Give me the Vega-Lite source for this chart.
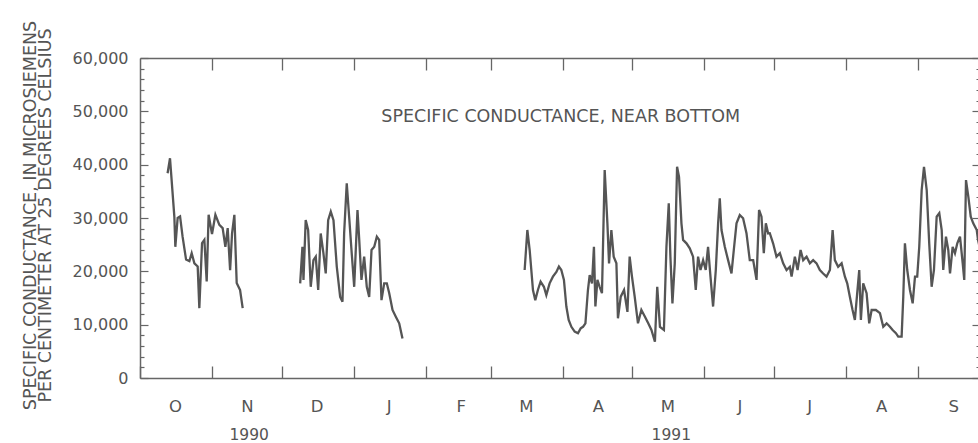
{
  "$schema": "https://vega.github.io/schema/vega-lite/v6.json",
  "autosize": {"type": "none"},
  "padding": {"left": 140, "top": 58, "right": 0, "bottom": 65},
  "width": 838,
  "height": 320,
  "background": "white",
  "config": {"view": {"stroke": null}, "font": "DejaVu Sans", "axis": {"grid": false}},
  "datasets": {
    "conductance": [
      {"date": "1990-10-12T21:00", "value": 38400, "segment": 1},
      {"date": "1990-10-13T22:00", "value": 41200, "segment": 1},
      {"date": "1990-10-15T19:00", "value": 30200, "segment": 1},
      {"date": "1990-10-16T05:00", "value": 24600, "segment": 1},
      {"date": "1990-10-17T05:00", "value": 30000, "segment": 1},
      {"date": "1990-10-18T06:00", "value": 30300, "segment": 1},
      {"date": "1990-10-19T08:00", "value": 26500, "segment": 1},
      {"date": "1990-10-20T20:00", "value": 22200, "segment": 1},
      {"date": "1990-10-22T06:00", "value": 21900, "segment": 1},
      {"date": "1990-10-23T06:00", "value": 23400, "segment": 1},
      {"date": "1990-10-24T10:00", "value": 21500, "segment": 1},
      {"date": "1990-10-25T20:00", "value": 20900, "segment": 1},
      {"date": "1990-10-26T13:00", "value": 13100, "segment": 1},
      {"date": "1990-10-27T17:00", "value": 25300, "segment": 1},
      {"date": "1990-10-28T17:00", "value": 25900, "segment": 1},
      {"date": "1990-10-29T17:00", "value": 18100, "segment": 1},
      {"date": "1990-10-30T13:00", "value": 30600, "segment": 1},
      {"date": "1990-11-01T00:00", "value": 27000, "segment": 1},
      {"date": "1990-11-02T11:00", "value": 30600, "segment": 1},
      {"date": "1990-11-04T04:00", "value": 28700, "segment": 1},
      {"date": "1990-11-05T14:00", "value": 28100, "segment": 1},
      {"date": "1990-11-06T18:00", "value": 24600, "segment": 1},
      {"date": "1990-11-07T18:00", "value": 28100, "segment": 1},
      {"date": "1990-11-08T19:00", "value": 20200, "segment": 1},
      {"date": "1990-11-09T15:00", "value": 27100, "segment": 1},
      {"date": "1990-11-10T15:00", "value": 30600, "segment": 1},
      {"date": "1990-11-11T15:00", "value": 17800, "segment": 1},
      {"date": "1990-11-13T02:00", "value": 16500, "segment": 1},
      {"date": "1990-11-14T05:00", "value": 13100, "segment": 1},
      {"date": "1990-12-08T23:00", "value": 17750, "segment": 2},
      {"date": "1990-12-09T22:00", "value": 24600, "segment": 2},
      {"date": "1990-12-10T09:00", "value": 18400, "segment": 2},
      {"date": "1990-12-11T08:00", "value": 29600, "segment": 2},
      {"date": "1990-12-12T09:00", "value": 27750, "segment": 2},
      {"date": "1990-12-13T12:00", "value": 17100, "segment": 2},
      {"date": "1990-12-14T16:00", "value": 22100, "segment": 2},
      {"date": "1990-12-15T16:00", "value": 22750, "segment": 2},
      {"date": "1990-12-16T17:00", "value": 16500, "segment": 2},
      {"date": "1990-12-17T19:00", "value": 27100, "segment": 2},
      {"date": "1990-12-18T23:00", "value": 23400, "segment": 2},
      {"date": "1990-12-19T23:00", "value": 19600, "segment": 2},
      {"date": "1990-12-21T00:00", "value": 29600, "segment": 2},
      {"date": "1990-12-22T03:00", "value": 31200, "segment": 2},
      {"date": "1990-12-23T07:00", "value": 29600, "segment": 2},
      {"date": "1990-12-24T17:00", "value": 20900, "segment": 2},
      {"date": "1990-12-26T04:00", "value": 15200, "segment": 2},
      {"date": "1990-12-27T04:00", "value": 14300, "segment": 2},
      {"date": "1990-12-27T21:00", "value": 27100, "segment": 2},
      {"date": "1990-12-29T00:00", "value": 36500, "segment": 2},
      {"date": "1990-12-30T01:00", "value": 30200, "segment": 2},
      {"date": "1990-12-31T01:00", "value": 24000, "segment": 2},
      {"date": "1991-01-01T05:00", "value": 17100, "segment": 2},
      {"date": "1991-01-02T15:00", "value": 31500, "segment": 2},
      {"date": "1991-01-03T09:00", "value": 25900, "segment": 2},
      {"date": "1991-01-04T08:00", "value": 18400, "segment": 2},
      {"date": "1991-01-05T12:00", "value": 22750, "segment": 2},
      {"date": "1991-01-06T15:00", "value": 17100, "segment": 2},
      {"date": "1991-01-07T16:00", "value": 15200, "segment": 2},
      {"date": "1991-01-08T16:00", "value": 24000, "segment": 2},
      {"date": "1991-01-09T20:00", "value": 24600, "segment": 2},
      {"date": "1991-01-10T23:00", "value": 26500, "segment": 2},
      {"date": "1991-01-11T23:00", "value": 25900, "segment": 2},
      {"date": "1991-01-12T23:00", "value": 14600, "segment": 2},
      {"date": "1991-01-14T03:00", "value": 17750, "segment": 2},
      {"date": "1991-01-15T06:00", "value": 17750, "segment": 2},
      {"date": "1991-01-16T07:00", "value": 15900, "segment": 2},
      {"date": "1991-01-17T17:00", "value": 12750, "segment": 2},
      {"date": "1991-01-19T03:00", "value": 11500, "segment": 2},
      {"date": "1991-01-20T14:00", "value": 10250, "segment": 2},
      {"date": "1991-01-22T00:00", "value": 7400, "segment": 2},
      {"date": "1991-03-15T14:00", "value": 20250, "segment": 3},
      {"date": "1991-03-16T18:00", "value": 27750, "segment": 3},
      {"date": "1991-03-17T18:00", "value": 24000, "segment": 3},
      {"date": "1991-03-19T04:00", "value": 16500, "segment": 3},
      {"date": "1991-03-20T04:00", "value": 14600, "segment": 3},
      {"date": "1991-03-21T07:00", "value": 16500, "segment": 3},
      {"date": "1991-03-22T11:00", "value": 18050, "segment": 3},
      {"date": "1991-03-23T21:00", "value": 17100, "segment": 3},
      {"date": "1991-03-24T22:00", "value": 15550, "segment": 3},
      {"date": "1991-03-26T08:00", "value": 17750, "segment": 3},
      {"date": "1991-03-27T18:00", "value": 19000, "segment": 3},
      {"date": "1991-03-29T06:00", "value": 19900, "segment": 3},
      {"date": "1991-03-30T08:00", "value": 20900, "segment": 3},
      {"date": "1991-03-31T09:00", "value": 20250, "segment": 3},
      {"date": "1991-04-01T12:00", "value": 18400, "segment": 3},
      {"date": "1991-04-02T13:00", "value": 13400, "segment": 3},
      {"date": "1991-04-03T13:00", "value": 10900, "segment": 3},
      {"date": "1991-04-04T17:00", "value": 9600, "segment": 3},
      {"date": "1991-04-06T03:00", "value": 8700, "segment": 3},
      {"date": "1991-04-07T13:00", "value": 8400, "segment": 3},
      {"date": "1991-04-08T17:00", "value": 9300, "segment": 3},
      {"date": "1991-04-09T17:00", "value": 9600, "segment": 3},
      {"date": "1991-04-10T18:00", "value": 10250, "segment": 3},
      {"date": "1991-04-11T20:00", "value": 16500, "segment": 3},
      {"date": "1991-04-12T14:00", "value": 19300, "segment": 3},
      {"date": "1991-04-13T14:00", "value": 17750, "segment": 3},
      {"date": "1991-04-14T10:00", "value": 24600, "segment": 3},
      {"date": "1991-04-15T01:00", "value": 13400, "segment": 3},
      {"date": "1991-04-15T22:00", "value": 18400, "segment": 3},
      {"date": "1991-04-16T21:00", "value": 17100, "segment": 3},
      {"date": "1991-04-17T21:00", "value": 15900, "segment": 3},
      {"date": "1991-04-19T01:00", "value": 39000, "segment": 3},
      {"date": "1991-04-20T05:00", "value": 29000, "segment": 3},
      {"date": "1991-04-20T22:00", "value": 21500, "segment": 3},
      {"date": "1991-04-21T22:00", "value": 27750, "segment": 3},
      {"date": "1991-04-22T22:00", "value": 22750, "segment": 3},
      {"date": "1991-04-24T02:00", "value": 21500, "segment": 3},
      {"date": "1991-04-24T18:00", "value": 11200, "segment": 3},
      {"date": "1991-04-25T23:00", "value": 15250, "segment": 3},
      {"date": "1991-04-27T09:00", "value": 16500, "segment": 3},
      {"date": "1991-04-28T20:00", "value": 12400, "segment": 3},
      {"date": "1991-04-29T19:00", "value": 22750, "segment": 3},
      {"date": "1991-04-30T19:00", "value": 19000, "segment": 3},
      {"date": "1991-05-01T23:00", "value": 15250, "segment": 3},
      {"date": "1991-05-03T09:00", "value": 10250, "segment": 3},
      {"date": "1991-05-04T20:00", "value": 12750, "segment": 3},
      {"date": "1991-05-06T09:00", "value": 11500, "segment": 3},
      {"date": "1991-05-07T19:00", "value": 10250, "segment": 3},
      {"date": "1991-05-09T04:00", "value": 9000, "segment": 3},
      {"date": "1991-05-10T16:00", "value": 6800, "segment": 3},
      {"date": "1991-05-11T16:00", "value": 17100, "segment": 3},
      {"date": "1991-05-12T20:00", "value": 9600, "segment": 3},
      {"date": "1991-05-14T13:00", "value": 9000, "segment": 3},
      {"date": "1991-05-15T15:00", "value": 24600, "segment": 3},
      {"date": "1991-05-16T15:00", "value": 32750, "segment": 3},
      {"date": "1991-05-17T08:00", "value": 22750, "segment": 3},
      {"date": "1991-05-18T05:00", "value": 14000, "segment": 3},
      {"date": "1991-05-19T05:00", "value": 21500, "segment": 3},
      {"date": "1991-05-20T05:00", "value": 39600, "segment": 3},
      {"date": "1991-05-21T01:00", "value": 37700, "segment": 3},
      {"date": "1991-05-22T02:00", "value": 29000, "segment": 3},
      {"date": "1991-05-22T19:00", "value": 25900, "segment": 3},
      {"date": "1991-05-24T06:00", "value": 25250, "segment": 3},
      {"date": "1991-05-25T16:00", "value": 24300, "segment": 3},
      {"date": "1991-05-27T02:00", "value": 22750, "segment": 3},
      {"date": "1991-05-28T06:00", "value": 16500, "segment": 3},
      {"date": "1991-05-29T06:00", "value": 22750, "segment": 3},
      {"date": "1991-05-30T07:00", "value": 20250, "segment": 3},
      {"date": "1991-05-31T10:00", "value": 22100, "segment": 3},
      {"date": "1991-06-01T13:00", "value": 20250, "segment": 3},
      {"date": "1991-06-02T13:00", "value": 24600, "segment": 3},
      {"date": "1991-06-03T14:00", "value": 19000, "segment": 3},
      {"date": "1991-06-04T17:00", "value": 13400, "segment": 3},
      {"date": "1991-06-05T21:00", "value": 20250, "segment": 3},
      {"date": "1991-06-06T21:00", "value": 29000, "segment": 3},
      {"date": "1991-06-07T14:00", "value": 33700, "segment": 3},
      {"date": "1991-06-08T08:00", "value": 27750, "segment": 3},
      {"date": "1991-06-09T18:00", "value": 24600, "segment": 3},
      {"date": "1991-06-11T04:00", "value": 22100, "segment": 3},
      {"date": "1991-06-12T15:00", "value": 19600, "segment": 3},
      {"date": "1991-06-13T15:00", "value": 24000, "segment": 3},
      {"date": "1991-06-14T19:00", "value": 29000, "segment": 3},
      {"date": "1991-06-16T05:00", "value": 30550, "segment": 3},
      {"date": "1991-06-17T15:00", "value": 29950, "segment": 3},
      {"date": "1991-06-19T02:00", "value": 27150, "segment": 3},
      {"date": "1991-06-20T12:00", "value": 22100, "segment": 3},
      {"date": "1991-06-21T23:00", "value": 22100, "segment": 3},
      {"date": "1991-06-23T10:00", "value": 18400, "segment": 3},
      {"date": "1991-06-24T12:00", "value": 31500, "segment": 3},
      {"date": "1991-06-25T13:00", "value": 30250, "segment": 3},
      {"date": "1991-06-26T13:00", "value": 23400, "segment": 3},
      {"date": "1991-06-27T10:00", "value": 29000, "segment": 3},
      {"date": "1991-06-28T10:00", "value": 27100, "segment": 3},
      {"date": "1991-06-29T03:00", "value": 27150, "segment": 3},
      {"date": "1991-06-30T13:00", "value": 25250, "segment": 3},
      {"date": "1991-07-02T00:00", "value": 22750, "segment": 3},
      {"date": "1991-07-03T11:00", "value": 23400, "segment": 3},
      {"date": "1991-07-04T21:00", "value": 21500, "segment": 3},
      {"date": "1991-07-06T08:00", "value": 20250, "segment": 3},
      {"date": "1991-07-07T18:00", "value": 20850, "segment": 3},
      {"date": "1991-07-08T12:00", "value": 19000, "segment": 3},
      {"date": "1991-07-09T22:00", "value": 22750, "segment": 3},
      {"date": "1991-07-11T02:00", "value": 20250, "segment": 3},
      {"date": "1991-07-12T09:00", "value": 24000, "segment": 3},
      {"date": "1991-07-13T12:00", "value": 22100, "segment": 3},
      {"date": "1991-07-14T23:00", "value": 22750, "segment": 3},
      {"date": "1991-07-16T09:00", "value": 21500, "segment": 3},
      {"date": "1991-07-17T19:00", "value": 22100, "segment": 3},
      {"date": "1991-07-19T06:00", "value": 21500, "segment": 3},
      {"date": "1991-07-20T16:00", "value": 20250, "segment": 3},
      {"date": "1991-07-22T02:00", "value": 19600, "segment": 3},
      {"date": "1991-07-23T13:00", "value": 19000, "segment": 3},
      {"date": "1991-07-25T00:00", "value": 20250, "segment": 3},
      {"date": "1991-07-26T04:00", "value": 27750, "segment": 3},
      {"date": "1991-07-27T03:00", "value": 22100, "segment": 3},
      {"date": "1991-07-28T13:00", "value": 20850, "segment": 3},
      {"date": "1991-07-30T01:00", "value": 21500, "segment": 3},
      {"date": "1991-07-31T11:00", "value": 19000, "segment": 3},
      {"date": "1991-08-01T11:00", "value": 17750, "segment": 3},
      {"date": "1991-08-02T14:00", "value": 15250, "segment": 3},
      {"date": "1991-08-03T18:00", "value": 12750, "segment": 3},
      {"date": "1991-08-04T18:00", "value": 10900, "segment": 3},
      {"date": "1991-08-05T18:00", "value": 15900, "segment": 3},
      {"date": "1991-08-06T15:00", "value": 20250, "segment": 3},
      {"date": "1991-08-07T08:00", "value": 10900, "segment": 3},
      {"date": "1991-08-08T08:00", "value": 17750, "segment": 3},
      {"date": "1991-08-09T19:00", "value": 15900, "segment": 3},
      {"date": "1991-08-10T22:00", "value": 10250, "segment": 3},
      {"date": "1991-08-11T23:00", "value": 12750, "segment": 3},
      {"date": "1991-08-13T19:00", "value": 12750, "segment": 3},
      {"date": "1991-08-15T13:00", "value": 12150, "segment": 3},
      {"date": "1991-08-16T23:00", "value": 9600, "segment": 3},
      {"date": "1991-08-18T10:00", "value": 10250, "segment": 3},
      {"date": "1991-08-19T20:00", "value": 9600, "segment": 3},
      {"date": "1991-08-21T00:00", "value": 9000, "segment": 3},
      {"date": "1991-08-22T10:00", "value": 8400, "segment": 3},
      {"date": "1991-08-23T10:00", "value": 7750, "segment": 3},
      {"date": "1991-08-24T21:00", "value": 7750, "segment": 3},
      {"date": "1991-08-25T14:00", "value": 15250, "segment": 3},
      {"date": "1991-08-26T07:00", "value": 25250, "segment": 3},
      {"date": "1991-08-27T07:00", "value": 20250, "segment": 3},
      {"date": "1991-08-28T11:00", "value": 16500, "segment": 3},
      {"date": "1991-08-29T15:00", "value": 14000, "segment": 3},
      {"date": "1991-08-30T15:00", "value": 19000, "segment": 3},
      {"date": "1991-08-31T14:00", "value": 19000, "segment": 3},
      {"date": "1991-09-01T11:00", "value": 24600, "segment": 3},
      {"date": "1991-09-02T12:00", "value": 35250, "segment": 3},
      {"date": "1991-09-03T12:00", "value": 39600, "segment": 3},
      {"date": "1991-09-04T16:00", "value": 35250, "segment": 3},
      {"date": "1991-09-05T18:00", "value": 25250, "segment": 3},
      {"date": "1991-09-06T19:00", "value": 17100, "segment": 3},
      {"date": "1991-09-07T19:00", "value": 20250, "segment": 3},
      {"date": "1991-09-08T23:00", "value": 30250, "segment": 3},
      {"date": "1991-09-10T02:00", "value": 30900, "segment": 3},
      {"date": "1991-09-11T03:00", "value": 27750, "segment": 3},
      {"date": "1991-09-11T19:00", "value": 20250, "segment": 3},
      {"date": "1991-09-12T23:00", "value": 26500, "segment": 3},
      {"date": "1991-09-13T23:00", "value": 24000, "segment": 3},
      {"date": "1991-09-14T17:00", "value": 19600, "segment": 3},
      {"date": "1991-09-15T20:00", "value": 24600, "segment": 3},
      {"date": "1991-09-16T20:00", "value": 23400, "segment": 3},
      {"date": "1991-09-17T20:00", "value": 25250, "segment": 3},
      {"date": "1991-09-19T00:00", "value": 26500, "segment": 3},
      {"date": "1991-09-20T04:00", "value": 21500, "segment": 3},
      {"date": "1991-09-20T20:00", "value": 18400, "segment": 3},
      {"date": "1991-09-21T14:00", "value": 37100, "segment": 3},
      {"date": "1991-09-22T14:00", "value": 34000, "segment": 3},
      {"date": "1991-09-23T15:00", "value": 30250, "segment": 3},
      {"date": "1991-09-24T17:00", "value": 29000, "segment": 3},
      {"date": "1991-09-26T05:00", "value": 27750, "segment": 3},
      {"date": "1991-09-26T18:00", "value": 25900, "segment": 3},
      {"date": "1991-09-27T12:00", "value": 24500, "segment": 3}
    ],
    "notes": [
      {"date": "1991-03-31T02:00", "value": 49000, "text": "SPECIFIC CONDUCTANCE, NEAR BOTTOM"}
    ]
  },
  "layer": [
    {
      "data": {"name": "conductance"},
      "mark": {"type": "line", "color": "#555555", "strokeWidth": 2.3, "clip": true},
      "encoding": {
        "x": {
          "field": "date", "type": "temporal",
          "scale": {"domain": [{"year": 1990, "month": 10, "date": 1}, {"year": 1991, "month": 9, "date": 26, "hours": 18}]},
          "axis": {
            "orient": "bottom", "title": null,
            "values": [
              {"year": 1990, "month": 10, "date": 1}, {"year": 1990, "month": 11, "date": 1}, {"year": 1990, "month": 12, "date": 1},
              {"year": 1991, "month": 1, "date": 1}, {"year": 1991, "month": 2, "date": 1}, {"year": 1991, "month": 3, "date": 1},
              {"year": 1991, "month": 4, "date": 1}, {"year": 1991, "month": 5, "date": 1}, {"year": 1991, "month": 6, "date": 1},
              {"year": 1991, "month": 7, "date": 1}, {"year": 1991, "month": 8, "date": 1}, {"year": 1991, "month": 9, "date": 1}
            ],
            "labelExpr": "substring(timeFormat(datum.value, '%B'), 0, 1)",
            "labelOffset": 35, "labelAlign": "center", "labelFlush": false, "labelOverlap": false, "labelBound": false,
            "labelFontSize": 16.5, "labelColor": "#555555", "labelFont": "DejaVu Sans", "labelPadding": 32,
            "tickSize": -12, "tickColor": "#666666", "tickWidth": 1.3,
            "domainColor": "#666666", "domainWidth": 1.5
          }
        },
        "y": {
          "field": "value", "type": "quantitative",
          "scale": {"domain": [0, 60000]},
          "axis": {
            "orient": "left",
            "values": [0, 2000, 4000, 6000, 8000, 10000, 12000, 14000, 16000, 18000, 20000, 22000, 24000, 26000, 28000, 30000, 32000, 34000, 36000, 38000, 40000, 42000, 44000, 46000, 48000, 50000, 52000, 54000, 56000, 58000, 60000],
            "labelExpr": "datum.value % 10000 === 0 ? format(datum.value, ',') : ''",
            "labelOverlap": false, "labelFlush": false, "labelBound": false,
            "labelFontSize": 16, "labelColor": "#555555", "labelFont": "DejaVu Sans", "labelPadding": 20,
            "tickSize": {"condition": {"test": "datum.value % 10000 === 0", "value": -8}, "value": -4},
            "tickColor": "#666666", "tickWidth": 1.2,
            "domainColor": "#666666", "domainWidth": 1.5,
            "title": ["SPECIFIC CONDUCTANCE, IN MICROSIEMENS", "PER CENTIMETER AT 25 DEGREES CELSIUS"],
            "titleFont": "DejaVu Sans", "titleFontSize": 17.5, "titleFontWeight": "normal", "titleColor": "#555555",
            "titleLineHeight": 15, "titleAngle": -90, "titleAlign": "center", "titleBaseline": "middle",
            "titleX": -110, "titleY": 157
          }
        },
        "detail": {"field": "segment", "type": "nominal"}
      }
    },
    {
      "data": {"name": "conductance"},
      "mark": {"type": "line", "opacity": 0},
      "encoding": {
        "x": {
          "field": "date", "type": "temporal",
          "scale": {"domain": [{"year": 1990, "month": 10, "date": 1}, {"year": 1991, "month": 9, "date": 26, "hours": 18}]},
          "axis": {
            "orient": "top", "title": null, "labels": false,
            "values": [
              {"year": 1990, "month": 11, "date": 1}, {"year": 1990, "month": 12, "date": 1},
              {"year": 1991, "month": 1, "date": 1}, {"year": 1991, "month": 2, "date": 1}, {"year": 1991, "month": 3, "date": 1},
              {"year": 1991, "month": 4, "date": 1}, {"year": 1991, "month": 5, "date": 1}, {"year": 1991, "month": 6, "date": 1},
              {"year": 1991, "month": 7, "date": 1}, {"year": 1991, "month": 8, "date": 1}, {"year": 1991, "month": 9, "date": 1}
            ],
            "tickSize": -12, "tickColor": "#666666", "tickWidth": 1.3,
            "domainColor": "#666666", "domainWidth": 1.5
          }
        },
        "y": {
          "field": "value", "type": "quantitative",
          "scale": {"domain": [0, 60000]},
          "axis": {
            "orient": "right", "title": null, "labels": false, "offset": 2,
            "values": [0, 2000, 4000, 6000, 8000, 10000, 12000, 14000, 16000, 18000, 20000, 22000, 24000, 26000, 28000, 30000, 32000, 34000, 36000, 38000, 40000, 42000, 44000, 46000, 48000, 50000, 52000, 54000, 56000, 58000, 60000],
            "tickSize": {"condition": {"test": "datum.value % 10000 === 0", "value": -8}, "value": -4},
            "tickColor": "#666666", "tickWidth": 1.2,
            "domainColor": "#666666", "domainWidth": 1.5
          }
        },
        "detail": {"field": "segment", "type": "nominal"}
      }
    },
    {
      "data": {"name": "notes"},
      "mark": {"type": "text", "fontSize": 17.5, "color": "#555555", "font": "DejaVu Sans", "align": "center", "baseline": "middle"},
      "encoding": {
        "x": {
          "field": "date", "type": "temporal",
          "scale": {"domain": [{"year": 1990, "month": 10, "date": 1}, {"year": 1991, "month": 9, "date": 26, "hours": 18}]},
          "axis": {
            "orient": "bottom", "title": null, "ticks": false, "domain": false,
            "values": [{"year": 1990, "month": 11, "date": 16, "hours": 19}, {"year": 1991, "month": 5, "date": 17, "hours": 12}],
            "labelExpr": "timeFormat(datum.value, '%Y')",
            "labelFontSize": 15.5, "labelColor": "#555555", "labelFont": "DejaVu Sans", "labelPadding": 49,
            "labelAlign": "center", "labelFlush": false, "labelOverlap": false, "labelBound": false
          }
        },
        "y": {"field": "value", "type": "quantitative", "scale": {"domain": [0, 60000]}, "axis": null},
        "text": {"field": "text"}
      }
    }
  ],
  "resolve": {"axis": {"x": "independent", "y": "independent"}}
}
